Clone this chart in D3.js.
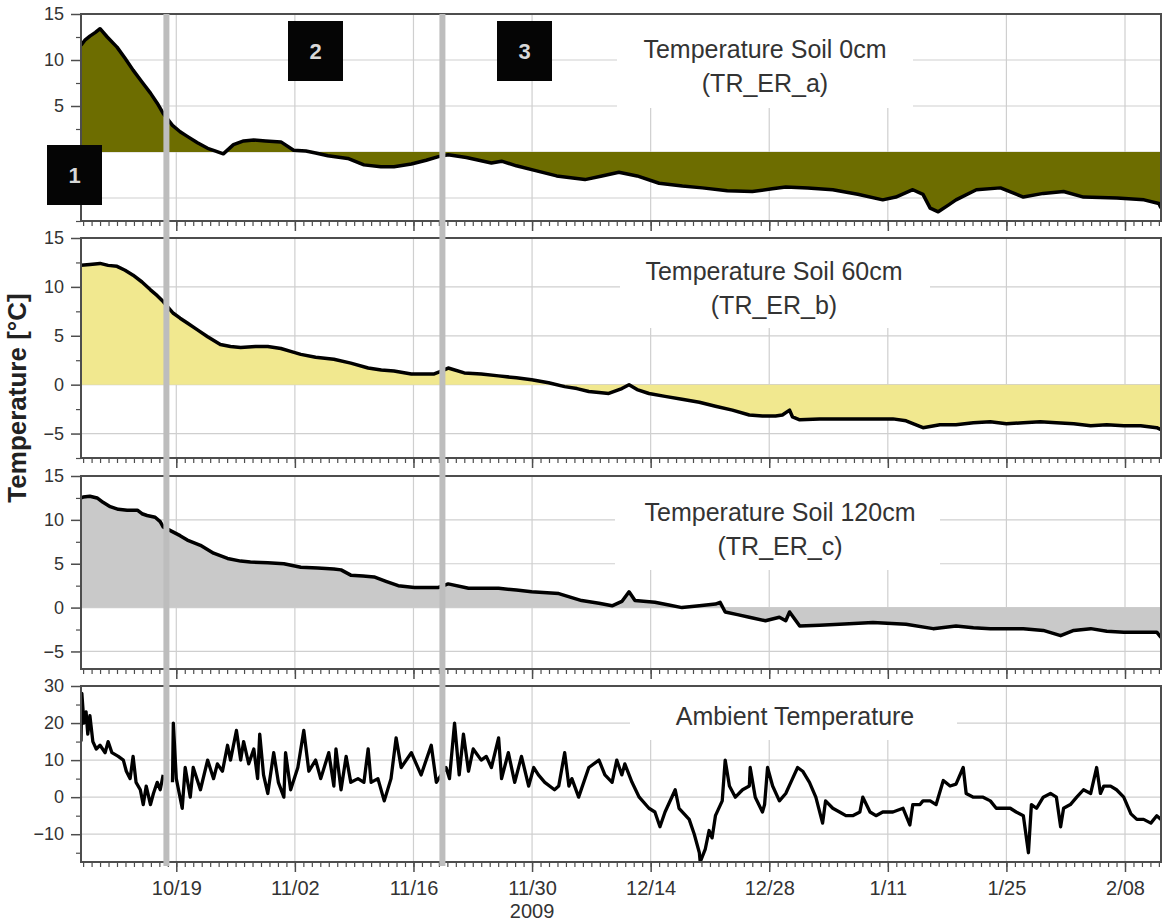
<!DOCTYPE html>
<html>
<head>
<meta charset="utf-8">
<script src="https://cdn.jsdelivr.net/npm/d3@7"></script>
<style>
body { margin: 0; background: #fff; }
text { font-family: "Liberation Sans", Arial, sans-serif; }
</style>
</head>
<body>
<div id="chart"></div>
<script>
// time span of the record (series positions are days after startDate)
var startDate = new Date(2009, 9, 7, 18),
    endDate = new Date(2010, 1, 12, 6);

// sensor interruptions marked with grey bars
var eventDates = [new Date(2009, 9, 17, 20), new Date(2009, 10, 19, 10)];

// [day, temperature]
var soil0 = [[0,11.6],[0.5,12.2],[1.05,12.6],[1.7,13.0],[2.25,13.4],[3.1,12.5],[4.25,11.4],[5.2,10.2],[6.15,8.9],[7.2,7.6],[8.2,6.4],[9.0,5.3],[9.7,4.2],
  [10.8,2.9],[11.7,2.2],[12.55,1.7],[13.75,1.0],[14.95,0.4],[15.9,0.1],[16.8,-0.2],[18.0,0.8],[19.2,1.2],[20.4,1.3],[21.8,1.2],
  [23.6,1.1],[25.1,0.2],[26.55,0.1],[27.7,-0.1],[29.15,-0.4],[31.5,-0.7],[33.4,-1.4],[35.4,-1.6],[36.95,-1.6],[39.0,-1.3],
  [40.75,-0.9],[42.2,-0.5],[43.35,-0.3],[45.5,-0.6],[48.45,-1.2],[49.65,-1.0],[51.4,-1.5],[53.55,-2.0],[56.15,-2.6],[59.5,-3.0],
  [61.5,-2.6],[63.5,-2.2],[65.65,-2.6],[68.25,-3.4],[71.0,-3.7],[73.35,-3.9],[76.3,-4.2],[79.25,-4.3],[81.6,-4.0],[83.2,-3.8],
  [85.8,-3.9],[88.75,-4.1],[91.7,-4.6],[94.65,-5.2],[96.2,-4.9],[98.2,-4.1],[99.4,-4.6],[100.25,-6.1],[101.2,-6.5],[102.35,-5.8],
  [103.3,-5.2],[105.7,-4.1],[108.55,-3.9],[111.25,-4.9],[113.6,-4.5],[116.0,-4.3],[118.35,-4.9],[122.3,-5.0],[125.5,-5.2],
  [127.25,-5.6],[127.5,-6.1]];

var soil60 = [[0,12.2],[1.05,12.3],[2.25,12.4],[3.2,12.2],[4.25,12.1],[5.2,11.7],[6.15,11.2],[7.2,10.5],[8.2,9.7],[9.0,9.1],
  [9.7,8.5],[10.9,7.3],[11.7,6.8],[12.55,6.3],[13.75,5.6],[14.95,4.9],[16.45,4.1],[17.65,3.9],[18.85,3.8],[20.6,3.9],[22.05,3.9],
  [23.6,3.7],[24.75,3.4],[25.95,3.1],[27.7,2.8],[29.85,2.6],[31.85,2.2],[33.9,1.7],[35.45,1.5],[36.95,1.4],[39.0,1.1],[41.7,1.1],
  [42.3,1.3],[43.35,1.7],[45.25,1.2],[47.25,1.1],[49.3,0.9],[51.4,0.7],[53.2,0.5],[55.2,0.2],[57.1,-0.2],[58.55,-0.4],[59.95,-0.7],
  [61.15,-0.8],[62.3,-0.9],[63.85,-0.4],[64.7,0.0],[65.65,-0.5],[67.05,-0.9],[68.95,-1.2],[70.95,-1.5],[73.0,-1.8],[74.9,-2.2],
  [76.9,-2.6],[78.9,-3.1],[80.45,-3.2],[82.0,-3.2],[82.8,-3.1],[83.65,-2.6],[84.0,-3.3],[84.85,-3.6],[87.2,-3.5],[89.55,-3.5],
  [93.5,-3.5],[95.85,-3.5],[97.4,-3.7],[99.4,-4.4],[101.4,-4.1],[103.3,-4.1],[105.35,-3.9],[107.35,-3.8],[109.25,-4.0],
  [111.25,-3.9],[113.25,-3.8],[115.15,-3.9],[117.2,-4.0],[119.2,-4.2],[121.1,-4.1],[123.1,-4.2],[125.1,-4.2],[127.0,-4.4],[127.5,-4.6]];

var soil120 = [[0,12.5],[0.25,12.6],[1.05,12.7],[1.9,12.5],[2.6,12.0],[3.45,11.5],[4.4,11.2],[5.45,11.1],[6.65,11.1],[7.2,10.7],
  [7.8,10.5],[8.75,10.3],[9.35,9.8],[9.7,9.2],[10.9,8.6],[11.7,8.2],[12.55,7.7],[14.1,7.1],[15.65,6.2],[17.3,5.6],[18.85,5.3],
  [20.0,5.2],[22.05,5.1],[23.95,5.0],[25.95,4.6],[27.95,4.5],[29.85,4.4],[30.7,4.3],[31.85,3.7],[33.3,3.6],[34.6,3.5],[36.0,3.0],
  [37.45,2.5],[39.35,2.3],[42.2,2.3],[43.35,2.7],[45.75,2.2],[49.3,2.2],[51.4,2.0],[53.2,1.8],[56.4,1.6],[59.1,0.8],[61.15,0.5],
  [62.7,0.2],[63.85,0.7],[64.7,1.8],[65.4,0.8],[67.75,0.6],[69.4,0.3],[70.95,0.0],[73.0,0.2],[74.9,0.4],[75.45,0.6],[76.05,-0.5],
  [77.5,-0.8],[78.9,-1.1],[80.8,-1.5],[82.45,-1.1],[83.2,-1.5],[83.65,-0.5],[84.85,-2.1],[87.2,-2.0],[89.55,-1.9],[93.5,-1.7],
  [97.4,-1.9],[100.6,-2.4],[103.3,-2.1],[105.35,-2.3],[107.35,-2.4],[111.25,-2.4],[113.6,-2.6],[115.65,-3.2],[117.2,-2.6],
  [119.2,-2.4],[121.1,-2.7],[123.1,-2.8],[127.0,-2.8],[127.5,-3.4]];

var ambient = [[0,15],[0.1,28],[0.35,20],[0.6,23],[0.8,17],[1.05,22],[1.4,15],[1.8,13],[2.25,14],[2.85,12],[3.2,15],[3.65,12],
  [4.4,11],[5.0,10],[5.35,7],[5.8,5],[6.15,11],[6.5,4],[7.0,2],[7.35,-2],[7.7,3],[8.2,-2],[8.55,1],[9.0,4],[9.35,2],[9.7,6],
  [10.2,null],[10.8,4],[10.9,20],[11.25,5],[11.95,-3],[12.3,8],[12.9,0],[13.25,8],[14.1,2],[14.95,10],[15.65,5],[16.1,9],[16.7,7],
  [17.3,14],[17.65,10],[18.35,18],[18.85,10],[19.2,15],[19.8,9],[20.4,13],[20.85,5],[21.1,17],[21.55,6],[22.05,1],[22.75,12],
  [23.3,4],[23.95,0],[24.15,12],[24.75,2],[25.6,8],[26.3,18],[26.9,7],[27.7,10],[28.3,5],[29.25,12],[29.85,3],[30.1,13],[30.7,2],
  [31.3,11],[31.85,4],[32.7,5],[33.4,4],[33.9,13],[34.25,4],[35.05,5],[35.8,-1],[36.6,5],[37.2,16],[37.8,8],[39.0,12],[40.15,6],
  [41.35,14],[41.95,4],[43.1,8],[43.5,5],[44.1,20],[44.65,6],[45.15,17],[45.75,7],[46.3,13],[47.25,10],[47.85,11],[48.45,8],
  [49.3,16],[49.65,5],[50.45,12],[51.2,4],[52.0,11],[52.85,3],[53.45,8],[54.0,6],[54.75,4],[55.9,2],[56.4,3],[57.1,12],[57.6,3],
  [57.95,5],[58.75,0],[59.95,8],[61.15,10],[61.85,6],[62.7,4],[63.25,10],[63.85,6],[64.2,9],[65.05,4],[65.9,0],[67.05,-3],
  [67.75,-4],[68.35,-8],[68.95,-4],[70.15,2],[70.6,-3],[71.8,-6],[72.4,-10],[73.0,-15],[73.1,-17.5],[73.7,-14],[74.15,-9],
  [74.5,-11],[74.9,-5],[75.7,-1],[76.05,10],[76.55,3],[77.25,0],[78.1,2],[78.9,3],[79.0,8],[79.6,0],[80.45,-4],[80.7,-2],
  [81.05,8],[81.65,3],[82.45,-1],[83.2,1],[84.0,5],[84.6,8],[85.2,7],[86.0,4],[86.75,0],[87.55,-7],[87.9,-1],[88.75,-3],
  [89.55,-4],[90.3,-5],[91.1,-5],[91.95,-4],[92.3,0],[93.15,-4],[93.85,-5],[94.65,-4],[95.85,-4],[97.05,-3],[97.85,-7.5],
  [98.2,-2],[99.05,-2],[99.4,-1],[100.25,-1],[100.95,-2],[101.8,4.5],[102.6,3],[103.3,3.5],[104.15,8],[104.5,1],[105.35,0],
  [106.5,0],[107.35,-1],[108.05,-3],[109.7,-3],[110.4,-4],[111.25,-5],[111.85,-15],[112.2,-2],[112.8,-3],[113.6,0],[114.45,1],
  [115.15,0],[115.65,-8],[116.0,-3],[116.8,-2],[117.55,0],[118.35,2],[119.2,1],[119.9,8],[120.35,1],[120.75,3],[121.55,3],
  [122.25,2],[123.1,0],[123.95,-4.5],[124.65,-6],[125.45,-6],[126.3,-7],[127.0,-5],[127.5,-6]];

var soilTicks = [-5, 0, 5, 10, 15],
    soilMinor = [-7.5, -2.5, 2.5, 7.5, 12.5],
    ambTicks = [-10, 0, 10, 20, 30],
    ambMinor = [-15, -5, 5, 15, 25];

// numbered phases
var phaseLabels = ["1", "2", "3"];

var width = 1165, height = 923;
var left = 81, right = 1161;

var svg = d3.select("#chart").append("svg")
    .attr("width", width)
    .attr("height", height);

var x = d3.scaleTime()
    .domain([startDate, endDate])
    .range([left, right]);

function toDate(day) {
  return new Date(startDate.getTime() + day * 86400000);
}

var panels = [
  {data: soil0, top: 14, bottom: 221, domain: [-7.5, 15], ticks: soilTicks, minor: soilMinor, fill: "#6d6d00", labelMin: 5,
   title: ["Temperature Soil 0cm", "(TR_ER_a)"], tx: 765, ty: [58, 92], box: [617, 913, 108], lw: 3.5},
  {data: soil60, top: 238, bottom: 458, domain: [-7.5, 15], ticks: soilTicks, minor: soilMinor, fill: "#f1e88f", labelMin: -5,
   title: ["Temperature Soil 60cm", "(TR_ER_b)"], tx: 774, ty: [280, 314], box: [620, 930, 328], lw: 3.5},
  {data: soil120, top: 476, bottom: 669, domain: [-7, 15], ticks: soilTicks, minor: soilMinor, fill: "#c9c9c9", labelMin: -5,
   title: ["Temperature Soil 120cm", "(TR_ER_c)"], tx: 780, ty: [521, 555], box: [615, 940, 570], lw: 3.5},
  {data: ambient, top: 686, bottom: 862, domain: [-17.5, 30], ticks: ambTicks, minor: ambMinor, fill: null, labelMin: -10,
   title: ["Ambient Temperature"], tx: 795, ty: [725], box: [630, 957, 740], lw: 3.3}
];

var majorDates = d3.timeDay.range(new Date(2009, 9, 19), endDate, 14);
var minorDates = d3.timeDay.range(d3.timeDay.ceil(startDate), endDate);

panels.forEach(function(p, i) {
  var y = d3.scaleLinear().domain(p.domain).range([p.bottom, p.top]);
  var g = svg.append("g");

  var pts = p.data.map(function(d) { return {t: toDate(d[0]), v: d[1]}; });

  // grid
  g.selectAll(".hgrid").data(p.ticks.filter(function(v) { return v > p.domain[0] && v < p.domain[1]; }))
    .enter().append("line")
      .attr("x1", left).attr("x2", right)
      .attr("y1", function(d) { return y(d); }).attr("y2", function(d) { return y(d); })
      .attr("stroke", "#cfcfcf").attr("stroke-width", 1.2);
  g.selectAll(".vgrid").data(majorDates)
    .enter().append("line")
      .attr("x1", function(d) { return x(d); }).attr("x2", function(d) { return x(d); })
      .attr("y1", p.top).attr("y2", p.bottom)
      .attr("stroke", "#cfcfcf").attr("stroke-width", 1.2);

  // white legend area behind the titles
  g.append("rect")
    .attr("x", p.box[0]).attr("y", p.top + 1)
    .attr("width", p.box[1] - p.box[0]).attr("height", p.box[2] - p.top - 1)
    .attr("fill", "#fff");

  var clipId = "clip" + i;
  svg.append("clipPath").attr("id", clipId).append("rect")
    .attr("x", left).attr("y", p.top).attr("width", right - left).attr("height", p.bottom - p.top);

  var plot = g.append("g").attr("clip-path", "url(#" + clipId + ")");

  if (p.fill) {
    var area = d3.area()
      .defined(function(d) { return d.v != null; })
      .x(function(d) { return x(d.t); })
      .y0(y(0))
      .y1(function(d) { return y(d.v); });
    plot.append("path").datum(pts).attr("d", area).attr("fill", p.fill);
  }

  var line = d3.line()
    .defined(function(d) { return d.v != null; })
    .x(function(d) { return x(d.t); })
    .y(function(d) { return y(d.v); });
  plot.append("path").datum(pts).attr("d", line)
    .attr("fill", "none").attr("stroke", "#000")
    .attr("stroke-width", p.lw).attr("stroke-linejoin", "round");

  // frame
  g.append("rect")
    .attr("x", left).attr("y", p.top)
    .attr("width", right - left).attr("height", p.bottom - p.top)
    .attr("fill", "none").attr("stroke", "#4d4d4d").attr("stroke-width", 2);

  // y axis
  var ya = g.append("g").attr("transform", "translate(" + left + ",0)")
    .call(d3.axisLeft(y).tickValues(p.ticks).tickSize(10).tickPadding(7)
      .tickFormat(function(d) { return d >= p.labelMin ? d3.format("d")(d) : ""; }));
  ya.select(".domain").remove();
  ya.selectAll("line").attr("stroke", "#4d4d4d").attr("stroke-width", 1.5);
  ya.selectAll("text").attr("font-size", 18).attr("fill", "#333")
    .attr("font-family", "'Liberation Sans', Arial, sans-serif");
  var ym = g.append("g").attr("transform", "translate(" + left + ",0)")
    .call(d3.axisLeft(y).tickValues(p.minor.filter(function(v) { return v >= p.domain[0]; })).tickSize(5).tickFormat(""));
  ym.select(".domain").remove();
  ym.selectAll("line").attr("stroke", "#4d4d4d").attr("stroke-width", 1.2);

  // x axis ticks
  var last = i === panels.length - 1;
  var xa = g.append("g").attr("transform", "translate(0," + p.bottom + ")")
    .call(d3.axisBottom(x).tickValues(majorDates).tickSize(10).tickPadding(9)
      .tickFormat(last ? d3.timeFormat("%-m/%d") : ""));
  xa.select(".domain").remove();
  xa.selectAll("line").attr("stroke", "#4d4d4d").attr("stroke-width", 1.5);
  xa.selectAll("text").attr("font-size", 20).attr("fill", "#333")
    .attr("font-family", "'Liberation Sans', Arial, sans-serif");
  var xm = g.append("g").attr("transform", "translate(0," + p.bottom + ")")
    .call(d3.axisBottom(x).tickValues(minorDates).tickSize(5).tickFormat(""));
  xm.select(".domain").remove();
  xm.selectAll("line").attr("stroke", "#4d4d4d").attr("stroke-width", 1.2);

  // titles
  p.title.forEach(function(t, k) {
    g.append("text")
      .attr("x", p.tx).attr("y", p.ty[k])
      .attr("text-anchor", "middle")
      .attr("font-size", 25)
      .attr("fill", "#333")
      .text(t);
  });
});

// year under the 11/30 tick
svg.append("text")
  .attr("x", x(new Date(2009, 10, 30)))
  .attr("y", 918)
  .attr("text-anchor", "middle")
  .attr("font-size", 20)
  .attr("fill", "#333")
  .text("2009");

// grey interruption bars across all panels
svg.selectAll(".event").data(eventDates)
  .enter().append("rect")
    .attr("x", function(d) { return x(d) - 3; })
    .attr("y", 14)
    .attr("width", 6)
    .attr("height", 852)
    .attr("fill", "#bdbdbd");

// phase boxes
var boxPos = [[47, 145], [288, 21], [497, 21]];
phaseLabels.forEach(function(lbl, k) {
  svg.append("rect")
    .attr("x", boxPos[k][0]).attr("y", boxPos[k][1])
    .attr("width", 55).attr("height", 60)
    .attr("fill", "#050505");
  svg.append("text")
    .attr("x", boxPos[k][0] + 27.5).attr("y", boxPos[k][1] + 38)
    .attr("text-anchor", "middle")
    .attr("font-size", 22)
    .attr("font-weight", "bold")
    .attr("fill", "#d8d8d8")
    .text(lbl);
});

// shared y label
svg.append("text")
  .attr("transform", "translate(26,398) rotate(-90)")
  .attr("text-anchor", "middle")
  .attr("font-size", 26)
  .attr("font-weight", "bold")
  .attr("fill", "#222")
  .text("Temperature [°C]");
</script>
</body>
</html>
